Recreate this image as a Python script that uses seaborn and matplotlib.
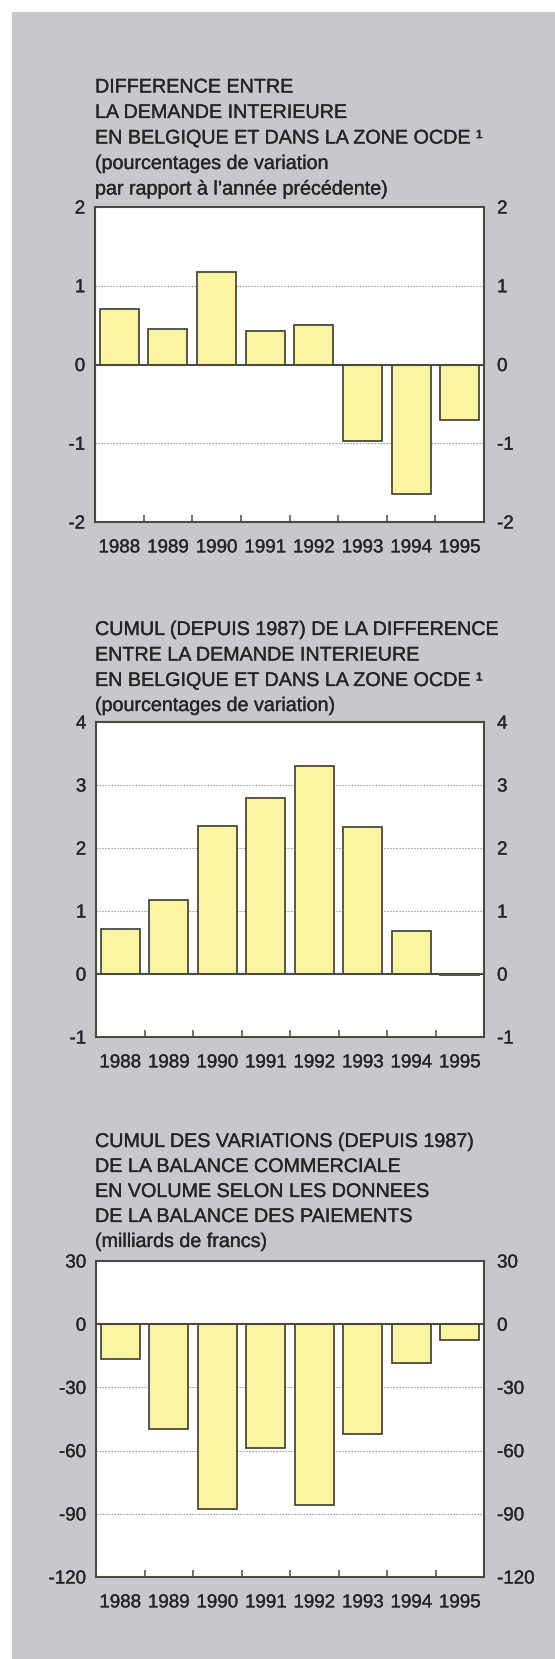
import matplotlib
matplotlib.use("Agg")
import matplotlib.pyplot as plt
import matplotlib.patheffects as pe
from matplotlib.patches import Rectangle
from matplotlib.ticker import FixedLocator
import seaborn as sns
import pandas as pd

years = ["1988", "1989", "1990", "1991", "1992", "1993", "1994", "1995"]

diff_demand = [0.71, 0.45, 1.18, 0.43, 0.50, -0.97, -1.65, -0.71]
cumul_demand = [0.71, 1.17, 2.35, 2.79, 3.30, 2.33, 0.69, -0.01]
cumul_balance = [-16.6, -49.6, -87.8, -58.6, -85.6, -52.3, -18.6, -7.6]

titles = [
    ["DIFFERENCE ENTRE", "LA DEMANDE INTERIEURE",
     "EN BELGIQUE ET DANS LA ZONE OCDE \u00b9",
     "(pourcentages de variation", "par rapport \u00e0 l\u2019ann\u00e9e pr\u00e9c\u00e9dente)"],
    ["CUMUL (DEPUIS 1987) DE LA DIFFERENCE", "ENTRE LA DEMANDE INTERIEURE",
     "EN BELGIQUE ET DANS LA ZONE OCDE \u00b9", "(pourcentages de variation)"],
    ["CUMUL DES VARIATIONS (DEPUIS 1987)", "DE LA BALANCE COMMERCIALE",
     "EN VOLUME SELON LES DONNEES", "DE LA BALANCE DES PAIEMENTS",
     "(milliards de francs)"],
]
yticks = [
    [-2, -1, 0, 1, 2],
    [-1, 0, 1, 2, 3, 4],
    [-120, -90, -60, -30, 0, 30],
]
series = [diff_demand, cumul_demand, cumul_balance]

sns.set_theme(style="white")
plt.rcParams["font.family"] = ["Liberation Sans", "DejaVu Sans"]

W, H = 555, 1659
fig = plt.figure(figsize=(W / 100, H / 100), dpi=100)
fig.patch.set_facecolor("white")
fig.patches.append(Rectangle((12 / W, 0), 1 - 12 / W, 1 - 12 / H,
                             transform=fig.transFigure, facecolor="#c6c8cb",
                             edgecolor="none", zorder=-10))

TXT = "#252525"
SPINE = "#4a4a3e"
BAR = "#f9f5a0"
thick = [pe.withStroke(linewidth=0.22, foreground=TXT)]

# axes boxes in pixels: left, right, top, bottom
boxes = [(95, 484, 207, 522), (96, 484, 722, 1037), (96, 484, 1261, 1577)]
# title baselines in pixels
baselines = [
    [92.5, 118, 143.5, 169, 194.5],
    [635, 660.5, 686, 711],
    [1147, 1172, 1197, 1222, 1247],
]

for i in range(3):
    l, r, t, b = boxes[i]
    ax = fig.add_axes([l / W, 1 - b / H, (r - l) / W, (b - t) / H])
    ax.set_facecolor("white")
    df = pd.DataFrame({"year": years, "value": series[i]})
    sns.barplot(data=df, x="year", y="value", ax=ax, color=BAR, saturation=1,
                edgecolor=SPINE, linewidth=1.3, width=0.8, zorder=3)
    yt = yticks[i]
    ax.set_ylim(yt[0], yt[-1])
    ax.set_xlim(-0.5, 7.5)
    ax.set_xlabel("")
    ax.set_ylabel("")
    ax.set_yticks(yt)
    ax.set_yticklabels([str(v) for v in yt])
    for v in yt[1:-1]:
        if v != 0:
            ax.axhline(v, color="#8c8c8c", lw=0.8, ls=(0, (1.2, 1.5)), zorder=1)
    ax.axhline(0, color=SPINE, lw=1.5, zorder=4)
    for s in ax.spines.values():
        s.set_color(SPINE)
        s.set_linewidth(1.5)
        s.set_zorder(5)
    ax.tick_params(axis="y", which="major", length=0, pad=7, labelsize=13.5,
                   labelcolor=TXT)
    ax.tick_params(axis="x", which="major", length=0, pad=12.5, labelsize=13.5,
                   labelcolor=TXT)
    ax.xaxis.set_minor_locator(FixedLocator([k + 0.5 for k in range(7)]))
    ax.tick_params(axis="x", which="minor", bottom=True, direction="in",
                   length=5, width=1.1, color=SPINE)
    ax.grid(False)

    ax2 = ax.twinx()
    ax2.set_ylim(ax.get_ylim())
    ax2.set_yticks(yt)
    ax2.set_yticklabels([str(v) for v in yt])
    ax2.tick_params(axis="y", length=0, pad=9.4, labelsize=13.5, labelcolor=TXT)
    for s in ax2.spines.values():
        s.set_visible(False)
    ax2.grid(False)

    for lab in ax.get_xticklabels() + ax.get_yticklabels() + ax2.get_yticklabels():
        lab.set_path_effects(thick)

    for line, yb in zip(titles[i], baselines[i]):
        fig.text(95 / W, 1 - yb / H, line, ha="left", va="baseline",
                 fontsize=14.2, color=TXT, path_effects=thick)

fig.savefig("out.png", dpi=100, facecolor=fig.get_facecolor())
